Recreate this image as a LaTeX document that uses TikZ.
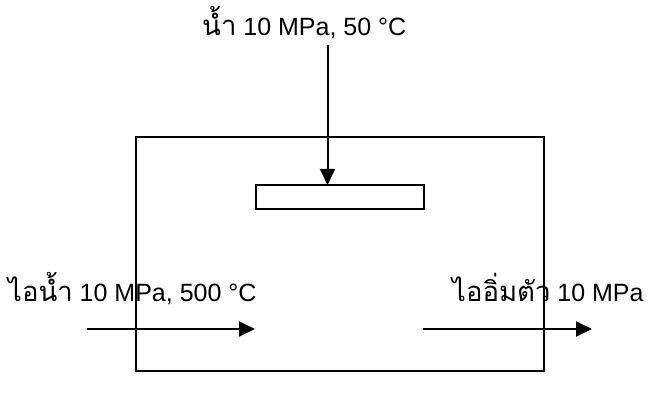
\documentclass[tikz,border=0pt]{standalone}
\usepackage{fontspec}
\setmainfont{Liberation Sans}
\newfontfamily\thai[Script=Thai,Scale=1.1]{Loma}
\usetikzlibrary{arrows.meta}
\begin{document}
\begin{tikzpicture}[x=1pt,y=-1pt,
  box/.style={draw,line width=2pt,inner sep=0pt},
  flow/.style={line width=2pt,-{Triangle[length=16pt,width=15pt]}},
  lbl/.style={anchor=base west,inner sep=0pt,font=\fontsize{25}{30}\selectfont}]
\useasboundingbox (0,0) rectangle (651,403);
\node[box,minimum width=408pt,minimum height=234pt] (vessel) at (340,254) {};
\node[box,minimum width=168pt,minimum height=24pt] (pipe) at (340,197) {};
\coordinate (topin) at (327.5,45);
\coordinate (pipetop) at (327.5,185);
\coordinate (lin) at (87,329);
\coordinate (lend) at (255,329);
\coordinate (rstart) at (423,329);
\coordinate (rout) at (592,329);
\draw[flow] (topin) -- (pipetop);
\draw[flow] (lin) -- (lend);
\draw[flow] (rstart) -- (rout);
\node[lbl] (ttop) at (202,36) {{\thai น้ำ} 10 MPa, 50 °C};
\node[lbl] (tleft) at (8,302) {{\thai ไอน้ำ} 10 MPa, 500 °C};
\node[lbl] (tright) at (452,302) {{\thai ไออิ่มตัว} 10 MPa};
\end{tikzpicture}
\end{document}
